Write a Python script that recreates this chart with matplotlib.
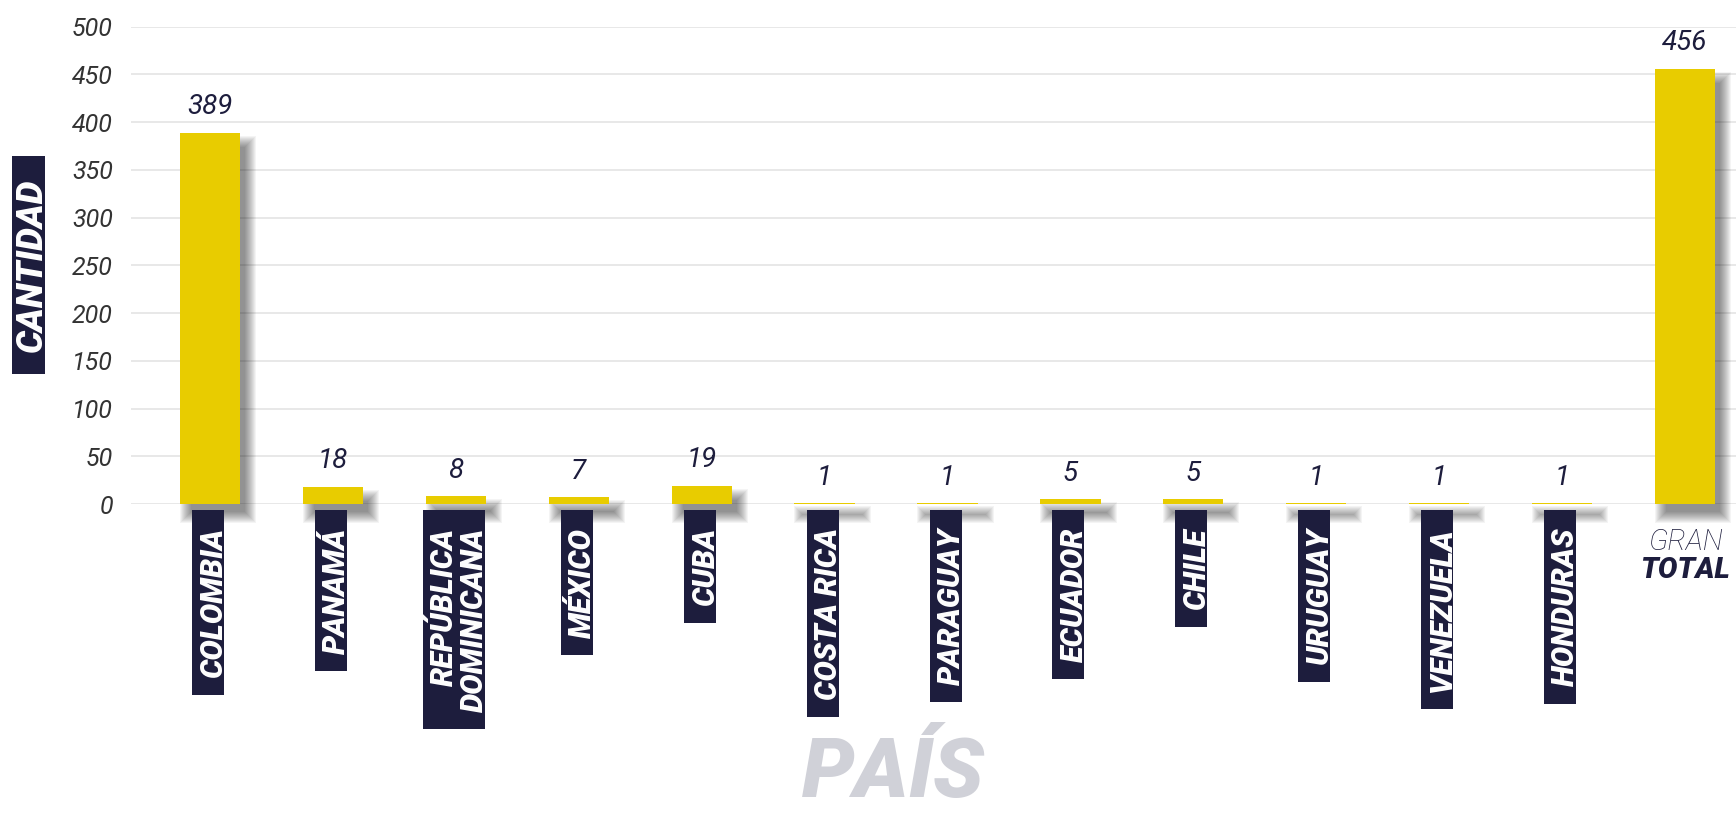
import matplotlib
matplotlib.use('Agg')
import matplotlib.pyplot as plt
import numpy as np
from matplotlib.patches import Rectangle
from matplotlib import transforms as mtrans

# ---------------- data ----------------
paises = ['COLOMBIA', 'PANAMÁ', 'REPÚBLICA\nDOMINICANA', 'MÉXICO', 'CUBA',
          'COSTA RICA', 'PARAGUAY', 'ECUADOR', 'CHILE', 'URUGUAY',
          'VENEZUELA', 'HONDURAS']
cantidades = [389, 18, 8, 7, 19, 1, 1, 5, 5, 1, 1, 1]
gran_total = 456
total_label_top = 'GRAN'
total_label_bottom = 'TOTAL'
yticks = [0, 50, 100, 150, 200, 250, 300, 350, 400, 450, 500]
y_title = 'CANTIDAD'
x_title = 'PAÍS'

# ---------------- style ----------------
YELLOW = '#E8CC00'
NAVY = '#1D1D3D'
GRID = '#E6E6E6'
TICK = '#333333'
PAIS_GRAY = '#D0D1D8'
FONT = ['Roboto', 'DejaVu Sans']

W, H = 1736, 814
fig = plt.figure(figsize=(W / 100, H / 100), dpi=100)
fig.patch.set_facecolor('white')

ax_left_px, ax_top_px, ax_bottom_px = 131, 26.6, 504
ax = fig.add_axes([ax_left_px / W, 1 - ax_bottom_px / H,
                   (W - ax_left_px) / W, (ax_bottom_px - ax_top_px) / H])

values = cantidades + [gran_total]
xs = np.arange(len(values))
xmin, xmax = -0.643, 12.415
ax.set_xlim(xmin, xmax)
ax.set_ylim(0, 500)

px_x = (W - ax_left_px) / (xmax - xmin)
px_y = (ax_bottom_px - ax_top_px) / 500.0

bw = 0.49

# grid
for yt in yticks:
    ax.axhline(yt, color=GRID, lw=1.3, zorder=0)

# shadows (layered translucent rectangles)
dx, dy = 8, 11
for x, v in zip(xs, values):
    for k in range(-3, 9):
        w = bw + 2 * k / px_x
        bottom = -(dy + k) / px_y
        top = v - (dy - k) / px_y
        if top <= bottom:
            continue
        ax.bar(x + dx / px_x, top - bottom, width=w, bottom=bottom,
               color='black', alpha=0.045, lw=0, zorder=1, clip_on=False)

# bars
ax.bar(xs, values, width=bw, color=YELLOW, lw=0, zorder=3)

# value labels
for x, v in zip(xs, values):
    ax.annotate(str(v), (x, v), xytext=(0, 9), textcoords='offset points',
                ha='center', va='bottom', fontsize=20, fontstyle='italic',
                fontweight='normal', color=NAVY, family=FONT, zorder=5)

# axes styling
for s in ax.spines.values():
    s.set_visible(False)
ax.set_xticks([])
ax.set_yticks(yticks)
ax.set_yticklabels([str(t) for t in yticks], fontsize=18, fontstyle='italic',
                   fontweight='normal', color=TICK, family=FONT)
ax.tick_params(axis='y', length=0, pad=13)
ax.set_facecolor('none')

# country labels (rotated, in navy boxes)
label_fs = 22
em_px = label_fs * 100 / 72
label_texts = []
base_tr = mtrans.blended_transform_factory(ax.transData, ax.transAxes)
for x, name in zip(xs[:-1], paises):
    tr = base_tr + mtrans.ScaledTranslation(0.1 * em_px / 100, -24 / 100,
                                            fig.dpi_scale_trans)
    t = ax.text(x, 0, name, transform=tr, rotation=90, rotation_mode='anchor',
                ha='right', va='center', multialignment='right',
                linespacing=1.0, color='white', fontsize=label_fs,
                fontweight='black', fontstyle='italic', family=FONT,
                zorder=7, clip_on=False)
    label_texts.append((x, name, t))

# GRAN TOTAL label
tr1 = base_tr + mtrans.ScaledTranslation(0, -46 / 100, fig.dpi_scale_trans)
ax.text(xs[-1], 0, total_label_top, transform=tr1, ha='center', va='baseline',
        fontsize=21, fontstyle='italic', fontweight='light', color=NAVY,
        family=FONT, clip_on=False)
tr2 = base_tr + mtrans.ScaledTranslation(0, -74 / 100, fig.dpi_scale_trans)
ax.text(xs[-1], 0, total_label_bottom, transform=tr2, ha='center', va='baseline',
        fontsize=21, fontstyle='italic', fontweight='black', color=NAVY,
        family=FONT, clip_on=False)

# y title
yt_fs = 26
yt_em = yt_fs * 100 / 72
ytxt = fig.text((28.5 + 0.1 * yt_em) / W, 1 - 265 / H, y_title, rotation=90,
                ha='center', va='center', color='white', fontsize=yt_fs,
                fontweight='black', fontstyle='italic', family=FONT, zorder=7)

# x title
fig.text(893 / W, 0.5 / H, x_title, ha='center', va='bottom', color=PAIS_GRAY,
         fontsize=60, fontweight='black', fontstyle='italic', family=FONT)

# boxes behind rotated labels
fig.canvas.draw()
renderer = fig.canvas.get_renderer()
inv = fig.transFigure.inverted()


def add_box(target, cx, y0, y1, width):
    (fx0, fy0) = inv.transform((cx - width / 2, y0))
    (fx1, fy1) = inv.transform((cx + width / 2, y1))
    rect = Rectangle((fx0, fy0), fx1 - fx0, fy1 - fy0,
                     transform=fig.transFigure, facecolor=NAVY,
                     edgecolor='none', zorder=6, clip_on=False)
    if target is fig:
        fig.add_artist(rect)
    else:
        target.add_patch(rect)


for x, name, t in label_texts:
    bb = t.get_window_extent(renderer)
    cx = ax.transData.transform((x, 0))[0]
    width = 62 if '\n' in name else 32
    add_box(ax, cx - 2, bb.y0 - 17, bb.y1 + 18, width)

bb = ytxt.get_window_extent(renderer)
add_box(fig, 28.5, bb.y0 - 22, bb.y1 + 22, 33)

fig.savefig('out.png', dpi=100, facecolor='white')
